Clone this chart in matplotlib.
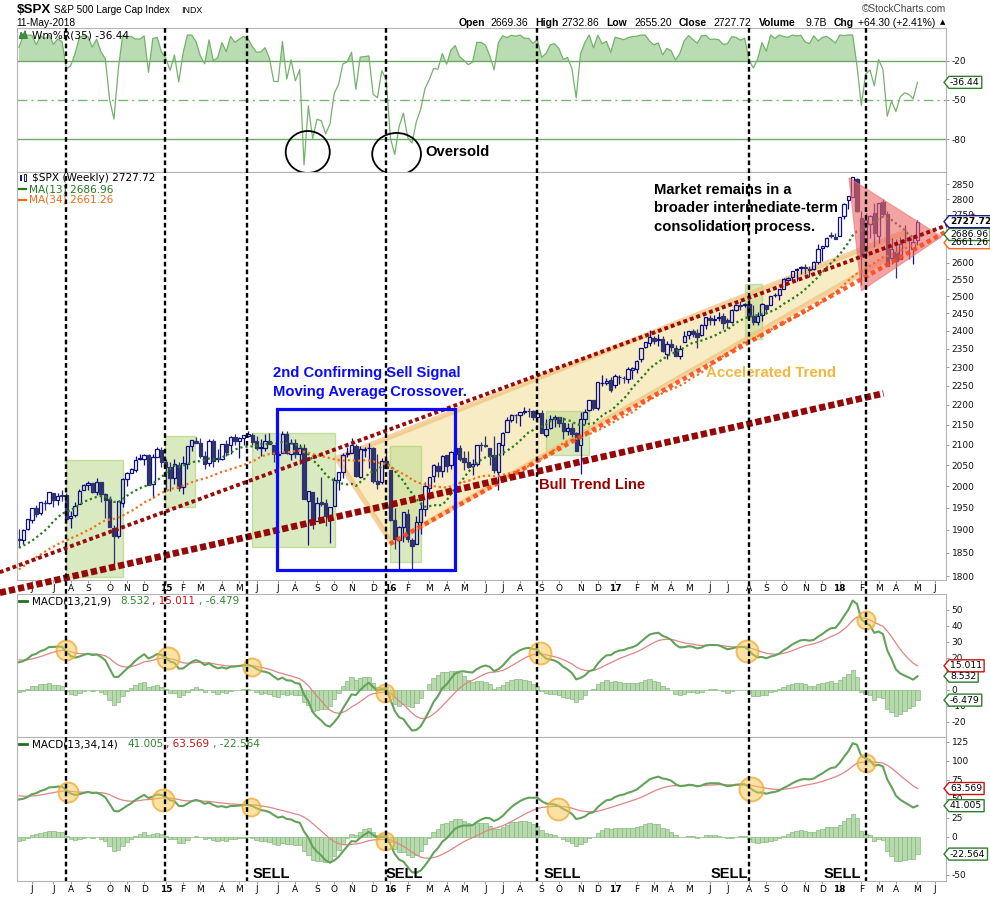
import numpy as np
import pandas as pd
import matplotlib
matplotlib.use('Agg')
import matplotlib.pyplot as plt
from matplotlib.patches import Rectangle, Polygon, Ellipse
from matplotlib.ticker import NullLocator, NullFormatter

# ======================= DATA =======================
bar_start = '2014-05-16'   # weekly bars, Friday dates

opens = [
    # 2014
    1880.0, 1878.0, 1902.0, 1923.0, 1950.0, 1937.0, 1962.0, 1961.0, 1984.0, 1968.0, 1979.0,
    1979.0, 1926.0, 1933.0, 1958.0, 1991.0, 2004.0, 2007.0, 1986.0, 2009.0, 1981.0, 1971.0,
    1905.0, 1886.0, 1962.0, 2018.0, 2032.0, 2039.0, 2065.0, 2065.0, 2074.0, 2005.0, 2069.0,
    # 2015
    2087, 2058, 2046, 2020, 2050, 1997, 2053, 2097, 2110, 2105, 2072, 2055, 2109,
    2064, 2064, 2102, 2100, 2119, 2108, 2116, 2122, 2125, 2108, 2092, 2092, 2110,
    2098, 2075, 2080, 2126, 2078, 2104, 2078, 2091, 1965, 1987, 1921, 1964, 1960,
    1933, 1954, 2015, 2033, 2076, 2080, 2096, 2022, 2087, 2091, 2091, 2013, 2010, 2061,
    # 2016
    2038, 1923, 1878, 1906, 1936, 1878, 1868, 1917, 1947, 1996, 2023, 2049,
    2036, 2074, 2050, 2078, 2092, 2067, 2057, 2047, 2052, 2100, 2100, 2092, 2075,
    2034, 2099, 2131, 2162, 2175, 2173, 2183, 2184, 2184, 2170, 2179, 2123, 2142, 2163,
    2169, 2154, 2134, 2142, 2129, 2100, 2164, 2186, 2212, 2191, 2258, 2258, 2266,
    # 2017
    2251, 2274, 2272, 2268, 2291, 2295, 2321, 2354, 2366, 2381, 2375, 2378, 2335,
    2364, 2352, 2329, 2370, 2388, 2400, 2393, 2387, 2416, 2436, 2430, 2437, 2441,
    2431, 2424, 2460, 2473, 2475, 2477, 2443, 2425, 2444, 2474, 2474.5, 2502, 2503,
    2521, 2547, 2555, 2578, 2583, 2588, 2580, 2579, 2603, 2645, 2652, 2685, 2679,
    # 2018
    2683, 2745, 2798, 2809, 2867, 2741, 2636, 2720, 2757, 2681, 2790, 2752, 2614,
    2633, 2611, 2670, 2676, 2643, 2669.36]

highs = [
    # 2014
    1902.2, 1901.0, 1924.0, 1950.0, 1955.6, 1963.9, 1968.0, 1985.6, 1984.0, 1983.9, 1991.4,
    1984.9, 1942.9, 1964.0, 1993.1, 2005.0, 2011.2, 2008.0, 2019.3, 2009.3, 1985.2, 1977.4,
    1912.1, 1965.3, 2018.2, 2034.3, 2042.5, 2071.5, 2075.8, 2077.3, 2075.8, 2077.9, 2093.6,
    # 2015
    2093.0, 2064.4, 2056.9, 2064.6, 2057.6, 2072.4, 2097.0, 2110.6, 2119.6, 2117.5, 2083.5,
    2114.9, 2114.9, 2088.8, 2102.6, 2111.9, 2120.9, 2125.9, 2117.7, 2123.9, 2134.7, 2129.5,
    2121.9, 2115.0, 2126.7, 2129.9, 2098.0, 2083.7, 2132.8, 2132.8, 2114.2, 2112.7, 2102.7,
    2102.3, 1989.6, 1987.0, 1975.0, 2020.9, 1970.0, 1951.4, 2020.9, 2034.0, 2079.7, 2094.3,
    2116.5, 2101.6, 2097.0, 2094.1, 2104.3, 2093.8, 2076.7, 2067.6, 2081.6,
    # 2016
    2038.0, 1950.3, 1908.9, 1940.2, 1947.2, 1881.6, 1930.7, 1962.9, 2009.1, 2022.4, 2052.4,
    2056.6, 2075.1, 2074.0, 2083.2, 2111.1, 2099.9, 2083.4, 2084.9, 2064.2, 2099.1, 2105.3,
    2120.6, 2092.0, 2120.6, 2104.3, 2131.7, 2169.1, 2175.6, 2177.1, 2183.0, 2193.8, 2193.4,
    2187.9, 2184.9, 2187.9, 2163.3, 2175.3, 2175.3, 2169.6, 2169.6, 2153.8, 2154.8, 2131.7,
    2182.3, 2189.9, 2213.4, 2214.1, 2259.8, 2277.5, 2271.2, 2273.8,
    # 2017
    2282.1, 2279.3, 2276.0, 2301.0, 2299.0, 2319.2, 2351.3, 2367.8, 2401.0, 2386.1, 2390.0,
    2385.7, 2370.4, 2378.4, 2361.4, 2361.4, 2398.2, 2399.3, 2403.9, 2405.8, 2418.7, 2440.2,
    2446.2, 2446.2, 2453.8, 2450.4, 2436.2, 2463.5, 2477.6, 2484.0, 2480.4, 2490.9, 2474.9,
    2454.8, 2480.4, 2474.5, 2500.2, 2508.9, 2519.4, 2552.5, 2557.7, 2575.4, 2583.0, 2588.4,
    2597.0, 2590.1, 2604.2, 2657.7, 2651.7, 2679.6, 2695.0, 2692.1,
    # 2018
    2743.5, 2787.9, 2810.3, 2872.9, 2870.6, 2763.4, 2754.4, 2747.8, 2789.2, 2786.6, 2801.9,
    2761.9, 2674.8, 2672.1, 2680.3, 2717.5, 2683.6, 2682.9, 2732.86]

lows = [
    # 2014
    1862.4, 1868.0, 1900.0, 1915.0, 1930.0, 1933.0, 1944.0, 1958.0, 1952.9, 1955.6, 1965.1,
    1916.4, 1904.8, 1929.8, 1958.0, 1991.0, 1990.1, 1983.5, 1978.6, 1964.0, 1926.0, 1906.0,
    1820.7, 1882.2, 1951.4, 2001.0, 2030.2, 2034.5, 2062.3, 2049.6, 2002.3, 1972.6, 2069.0,
    # 2015
    2046.0, 1992.4, 1988.1, 2004.5, 1989.2, 1980.9, 2041.9, 2085.4, 2103.1, 2067.3, 2039.7,
    2046.8, 2045.5, 2056.5, 2062.2, 2072.4, 2077.8, 2098.3, 2067.9, 2098.0, 2119.1, 2099.2,
    2085.7, 2072.1, 2083.7, 2101.0, 2056.6, 2044.0, 2080.0, 2077.6, 2063.5, 2067.9, 2052.1,
    1970.9, 1867.0, 1903.1, 1921.0, 1953.0, 1908.8, 1871.9, 1954.0, 1990.7, 2018.2, 2069.0,
    2080.0, 2022.0, 2019.4, 2070.3, 2042.4, 2008.5, 1993.3, 2005.9, 2043.6,
    # 2016
    1918.9, 1857.8, 1812.3, 1872.7, 1872.7, 1810.1, 1868.0, 1891.0, 1931.8, 1969.3, 2010.0,
    2022.1, 2022.5, 2033.8, 2039.7, 2074.6, 2059.3, 2039.5, 2043.1, 2025.9, 2047.3, 2085.1,
    2095.0, 2050.4, 2032.0, 1991.7, 2074.0, 2131.0, 2155.8, 2153.6, 2147.6, 2177.8, 2168.5,
    2160.4, 2157.1, 2127.8, 2119.1, 2139.2, 2145.0, 2142.6, 2114.7, 2124.6, 2119.8, 2083.8,
    2028.5, 2151.1, 2183.9, 2187.4, 2187.3, 2248.4, 2253.3, 2233.6,
    # 2017
    2245.1, 2254.3, 2258.4, 2257.0, 2267.2, 2283.8, 2313.6, 2352.9, 2358.9, 2362.6, 2357.5,
    2341.9, 2322.3, 2344.5, 2328.8, 2322.3, 2370.0, 2378.1, 2381.7, 2352.7, 2386.4, 2405.7,
    2415.7, 2415.6, 2427.1, 2405.7, 2407.7, 2422.0, 2457.7, 2459.9, 2467.0, 2437.8, 2417.4,
    2417.3, 2428.2, 2446.6, 2474.5, 2496.7, 2488.0, 2520.4, 2543.8, 2547.9, 2544.0, 2566.2,
    2566.3, 2557.5, 2576.3, 2597.0, 2605.5, 2647.6, 2676.1, 2673.6,
    # 2018
    2682.4, 2735.6, 2769.8, 2808.1, 2758.9, 2532.7, 2622.4, 2675.8, 2647.3, 2658.9, 2741.4,
    2588.3, 2594.6, 2553.8, 2610.8, 2660.0, 2612.2, 2594.6, 2655.20]

closes = [
    # 2014
    1877.9, 1900.5, 1923.6, 1949.4, 1936.2, 1962.9, 1961.0, 1985.4, 1967.6, 1978.2, 1978.3,
    1925.2, 1931.6, 1955.1, 1988.4, 2003.4, 2007.7, 1985.5, 2010.4, 1982.9, 1967.9, 1906.1,
    1886.8, 1964.6, 2018.1, 2031.9, 2039.8, 2063.5, 2067.6, 2075.4, 2002.3, 2070.7, 2088.8,
    # 2015
    2058.2, 2044.8, 2019.4, 2051.8, 1995.0, 2055.5, 2097.0, 2110.3, 2104.5, 2071.3, 2053.4,
    2108.1, 2061.0, 2067.0, 2102.1, 2081.2, 2117.7, 2108.3, 2116.1, 2122.7, 2126.1, 2107.4,
    2092.8, 2094.1, 2110.0, 2101.5, 2076.8, 2076.6, 2126.6, 2079.7, 2103.8, 2077.6, 2091.5,
    1970.9, 1988.9, 1921.2, 1961.1, 1958.1, 1931.3, 1951.4, 2014.9, 2033.1, 2075.2, 2079.4,
    2099.2, 2023.0, 2089.2, 2090.1, 2091.7, 2012.4, 2005.6, 2061.0, 2043.9,
    # 2016
    1922.0, 1880.3, 1906.9, 1940.2, 1880.1, 1864.8, 1917.8, 1948.1, 2000.0, 2022.2, 2049.6,
    2035.9, 2072.8, 2047.6, 2080.7, 2091.6, 2065.3, 2057.1, 2046.6, 2052.3, 2099.1, 2099.1,
    2096.1, 2071.2, 2037.4, 2103.0, 2129.9, 2161.7, 2175.0, 2173.6, 2182.9, 2184.1, 2183.9,
    2169.0, 2180.0, 2127.8, 2139.2, 2164.7, 2168.3, 2153.7, 2133.0, 2141.2, 2126.4, 2085.2,
    2164.5, 2181.9, 2213.4, 2192.0, 2259.5, 2258.1, 2263.8, 2238.8,
    # 2017
    2277.0, 2274.6, 2271.3, 2294.7, 2297.4, 2316.1, 2351.2, 2367.3, 2383.1, 2372.6, 2378.3,
    2344.0, 2362.7, 2355.5, 2329.0, 2348.7, 2384.2, 2399.3, 2390.9, 2381.7, 2415.8, 2439.1,
    2431.8, 2433.2, 2438.3, 2423.4, 2425.2, 2459.3, 2472.5, 2472.1, 2476.8, 2441.3, 2425.6,
    2443.1, 2476.6, 2461.4, 2500.2, 2502.2, 2519.4, 2549.3, 2553.2, 2575.2, 2581.1, 2587.8,
    2582.3, 2578.9, 2602.4, 2642.2, 2651.5, 2675.8, 2683.3, 2673.6,
    # 2018
    2743.2, 2786.2, 2810.3, 2872.9, 2762.1, 2619.6, 2732.2, 2747.3, 2691.3, 2786.6, 2752.0,
    2588.3, 2640.9, 2604.5, 2656.3, 2670.1, 2669.9, 2663.4, 2727.72]

# earlier weekly history (off-chart) used only to warm up the indicators
warm_start = '2013-01-04'
warm_closes = [
    1466.5, 1472.1, 1486.0, 1503.0, 1513.2, 1517.9, 1519.8, 1515.6, 1518.2, 1551.2, 1560.7,
    1556.9, 1569.2, 1553.3, 1588.9, 1555.3, 1582.2, 1614.4, 1633.7, 1667.5, 1649.6, 1630.7,
    1643.4, 1626.7, 1592.4, 1606.3, 1631.9, 1680.2, 1692.1, 1691.7, 1709.7, 1691.4, 1655.8,
    1663.5, 1633.0, 1655.2, 1688.0, 1709.9, 1691.8, 1690.5, 1703.2, 1744.5, 1759.8, 1761.6,
    1770.6, 1798.2, 1804.8, 1805.8, 1805.1, 1775.3, 1818.3, 1841.4, 1831.4, 1842.4, 1838.7,
    1790.3, 1782.6, 1797.0, 1838.6, 1836.3, 1859.5, 1878.0, 1841.1, 1866.5, 1857.6, 1865.1,
    1815.7, 1864.9, 1863.4, 1881.1, 1878.5]
warm_highs = [
    1467.9, 1472.3, 1485.9, 1503.3, 1514.4, 1518.3, 1524.7, 1530.9, 1525.8, 1552.5, 1563.6,
    1560.8, 1569.2, 1573.7, 1597.4, 1588.9, 1592.6, 1618.5, 1635.0, 1667.5, 1687.2, 1661.1,
    1644.4, 1648.7, 1654.2, 1615.9, 1632.1, 1680.2, 1693.1, 1698.8, 1709.7, 1709.2, 1693.0,
    1669.5, 1664.8, 1670.4, 1689.1, 1729.9, 1711.4, 1696.6, 1703.4, 1745.3, 1759.8, 1775.2,
    1774.5, 1798.2, 1804.8, 1813.6, 1810.0, 1811.5, 1823.8, 1844.9, 1849.4, 1843.2, 1850.8,
    1850.2, 1798.9, 1798.0, 1841.7, 1847.5, 1867.9, 1883.6, 1878.0, 1883.9, 1875.9, 1897.3,
    1872.4, 1869.6, 1884.9, 1891.3, 1889.1]
warm_lows = [
    1426.2, 1451.6, 1463.8, 1485.0, 1495.3, 1495.0, 1513.0, 1497.3, 1485.0, 1512.0, 1548.0,
    1538.6, 1546.2, 1539.5, 1552.3, 1536.0, 1555.3, 1577.6, 1614.4, 1631.7, 1635.5, 1630.7,
    1598.2, 1608.1, 1577.7, 1560.3, 1601.1, 1631.9, 1671.8, 1676.0, 1681.9, 1684.9, 1654.2,
    1640.0, 1627.5, 1633.4, 1655.2, 1688.0, 1687.4, 1670.4, 1646.5, 1696.8, 1740.5, 1752.7,
    1746.2, 1764.0, 1780.0, 1800.5, 1779.1, 1772.0, 1767.9, 1818.3, 1827.7, 1823.7, 1815.5,
    1790.3, 1770.5, 1737.9, 1791.8, 1824.6, 1834.4, 1834.4, 1839.6, 1839.5, 1842.1, 1858.7,
    1814.4, 1815.8, 1859.7, 1859.8, 1859.8]

month_letters = ['J', 'F', 'M', 'A', 'M', 'J', 'J', 'A', 'S', 'O', 'N', 'D']
axis_end = '2018-06-29'
# right-axis labels that are visible (others are hidden under the value tags)
price_ticks = [1800, 1850, 1900, 1950, 2000, 2050, 2100, 2150, 2200, 2250, 2300, 2350, 2400,
               2450, 2500, 2550, 2600, 2750, 2800, 2850]
wr_ticks = [-20, -50, -80]
macd1_ticks = [50, 40, 30, 20, 0, -10, -20]
macd2_ticks = [125, 100, 75, 50, 25, 0, -50]

# legend / tag values as printed on the chart
last_close, last_ma13, last_ma34, last_wr = '2727.72', '2686.96', '2661.26', '-36.44'
macd1_vals = ('8.532', '15.011', '-6.479')
macd2_vals = ('41.005', '63.569', '-22.564')

# annotations (dates / values)
sell_lines = ['2014-07-31', '2015-01-08', '2015-05-21', '2016-01-01',
              '2016-09-01', '2017-08-11', '2018-02-16']
sell_labels = ['2015-05-30', '2015-12-31', '2016-09-12', '2017-06-10', '2017-12-10']
green_boxes = [('2014-07-31', '2014-10-31', 1798, 2062),
               ('2015-01-08', '2015-02-26', 1952, 2121),
               ('2015-05-29', '2015-10-10', 1863, 2129),
               ('2016-01-07', '2016-02-26', 1830, 2097),
               ('2016-09-16', '2016-11-25', 2075, 2185),
               ('2017-08-04', '2017-09-01', 2377, 2535)]
blue_box = ('2015-07-09', '2016-04-22', 1813, 2189)
bull_line = [('2014-04-15', 1765), ('2018-03-17', 2230)]
upper_line = [('2014-04-15', 1808), ('2018-08-12', 2749)]
accel_line = [('2016-01-07', 1869), ('2018-06-25', 2695)]
wedge = [('2015-10-13', 2067), ('2016-01-10', 1871), ('2018-04-21', 2645), ('2018-04-21', 2695)]
red_tri = [('2018-01-20', 2872), ('2018-02-09', 2515), ('2018-06-19', 2680)]
macd1_marks = [('2014-07-31', 25.1, 10), ('2015-01-12', 20.2, 11), ('2015-05-28', 14.4, 9),
               ('2015-12-31', -2.1, 9), ('2016-09-06', 23.2, 11), ('2017-08-08', 24.4, 11),
               ('2018-02-16', 43.9, 9)]
macd2_marks = [('2014-08-03', 59.1, 10), ('2015-01-05', 49.0, 11), ('2015-05-27', 39.4, 9),
               ('2015-12-30', -5.8, 9), ('2016-10-05', 37.2, 11), ('2017-08-15', 63.0, 12),
               ('2018-02-16', 97.2, 9)]
oversold_rings = [('2015-08-27', -90.0, 10.2, 32.3), ('2016-01-18', -91.5, 11.3, 32.3)]

# ======================= INDICATORS =======================
o, h, l, c = map(np.asarray, (opens, highs, lows, closes))
n = len(c)
assert len(o) == len(h) == len(l) == n == 209
assert len(warm_closes) == len(warm_highs) == len(warm_lows)
nw = len(warm_closes)
allc = pd.Series(warm_closes + closes, dtype=float)
allh = pd.Series(warm_highs + highs, dtype=float)
alll = pd.Series(warm_lows + lows, dtype=float)
ma13 = allc.rolling(13).mean().values[nw:]
ma34 = allc.rolling(34).mean().values[nw:]
hh = allh.rolling(35).max()
ll = alll.rolling(35).min()
wr = ((hh - allc) / (hh - ll) * -100).values[nw:]


def ema(s, k):
    return s.ewm(span=k, adjust=False).mean()


m1 = ema(allc, 13) - ema(allc, 21)
s1 = ema(m1, 9)
m2 = ema(allc, 13) - ema(allc, 34)
s2 = ema(m2, 14)
macd1, sig1 = m1.values[nw:], s1.values[nw:]
macd2, sig2 = m2.values[nw:], s2.values[nw:]
hist1, hist2 = macd1 - sig1, macd2 - sig2

x = np.arange(n)
t0 = pd.Timestamp(bar_start)


def wk(d):
    return (pd.Timestamp(d) - t0).total_seconds() / 86400.0 / 7.0


ext = pd.date_range(bar_start, axis_end, freq='W-FRI')
tick_pos, tick_lab = [], []
for i, d in enumerate(ext):
    mon = d - pd.Timedelta(days=4)
    if mon.day <= 7:
        tick_pos.append(i)
        tick_lab.append('%02d' % (mon.year % 100) if mon.month == 1 else month_letters[mon.month - 1])

# ======================= FIGURE =======================
W, H = 990, 897
fig = plt.figure(figsize=(W / 100, H / 100), dpi=100)
fig.patch.set_facecolor('white')
SANS = ['Liberation Sans', 'DejaVu Sans']
VER = ['DejaVu Sans']


def rect(top, bottom):
    return [17 / W, 1 - bottom / H, 929 / W, (bottom - top) / H]


ax_w = fig.add_axes(rect(28.3, 171.7))
ax_p = fig.add_axes(rect(171.7, 580.0))
ax_m1 = fig.add_axes(rect(594.0, 736.7))
ax_m2 = fig.add_axes(rect(736.7, 880.7))
XL = (-0.44, 214.6)


def style(ax, ticks):
    ax.set_xlim(*XL)
    for s in ax.spines.values():
        s.set_color('#b4b4b4')
        s.set_linewidth(0.8)
    ax.yaxis.tick_right()
    ax.set_yticks(ticks)
    ax.set_yticklabels([str(t) for t in ticks], family=VER)
    ax.yaxis.set_minor_locator(NullLocator())
    ax.yaxis.set_minor_formatter(NullFormatter())
    ax.tick_params(axis='y', which='both', right=True, left=False, length=2.5, width=0.7,
                   color='#999999', pad=1.5, labelsize=6.5, labelcolor='#111111')
    ax.tick_params(axis='x', length=0, labelbottom=False)


# ---- Williams %R panel
ax_w.set_ylim(-105.15, 5.15)
ax_w.fill_between(x, wr, -20, where=wr > -20, interpolate=True, color='#b9dcb2', lw=0, zorder=1)
ax_w.plot(x, wr, color='#74b26c', lw=0.9, zorder=2)
ax_w.axhline(-20, color='#6fa868', lw=1.0, zorder=1.5)
ax_w.axhline(-80, color='#6fa868', lw=1.0, zorder=1.5)
ax_w.axhline(-50, color='#79b873', lw=1.0, ls=(0, (7, 3, 1.5, 3)), zorder=1.5)
style(ax_w, wr_ticks)
for d, v, wd, ht in oversold_rings:
    ax_w.add_patch(Ellipse((wk(d), v), wd, ht, fill=False, ec='black', lw=1.3, clip_on=False, zorder=6))
ax_w.text(wk('2016-03-05'), -90, 'Oversold', family=SANS, fontsize=10.6, fontweight='bold',
          va='center', ha='left', clip_on=False, zorder=6)

# ---- Price panel
ax_p.set_yscale('log')
ax_p.set_ylim(1791.6, 2892.5)

# shaded zones sit behind the candles
for d0, d1, p0, p1 in green_boxes:
    ax_p.add_patch(Rectangle((wk(d0), p0), wk(d1) - wk(d0), p1 - p0, facecolor='#c2dd96',
                             edgecolor='#a8d070', lw=1.0, alpha=0.6, zorder=1.2))
ax_p.add_patch(Polygon([(wk(d), p) for d, p in wedge], closed=True, facecolor='#f3e09c',
                       edgecolor='none', alpha=0.6, zorder=1.1))
ax_p.add_patch(Polygon([(wk(d), p) for d, p in wedge], closed=True, fill=False,
                       edgecolor='#f2c07a', lw=3.8, alpha=0.7, zorder=1.3, joinstyle='round'))

up = c >= o
UPC, DNC = '#0e0e86', '#2f336c'
btop, bbot = np.maximum(o, c), np.minimum(o, c)
for m, col in ((up, UPC), (~up, DNC)):
    ax_p.vlines(x[m], btop[m], h[m], color=col, lw=0.9, zorder=2)
    ax_p.vlines(x[m], l[m], bbot[m], color=col, lw=0.9, zorder=2)
ax_p.bar(x[up], (c - o)[up], bottom=o[up], width=0.78, facecolor='none', edgecolor=UPC, lw=0.9, zorder=2.2)
ax_p.bar(x[~up], (o - c)[~up], bottom=c[~up], width=0.78, facecolor=DNC, edgecolor=DNC, lw=0.9, zorder=2.2)
ax_p.plot(x, ma13, color='#2b7a1f', lw=1.6, ls=(0, (1, 1.3)), zorder=2.5)
ax_p.plot(x, ma34, color='#f2701f', lw=1.6, ls=(0, (1, 1.3)), zorder=2.5)
style(ax_p, price_ticks)

ax_p.add_patch(Polygon([(wk(d), p) for d, p in red_tri], closed=True, facecolor='#ee6464',
                       edgecolor='#ee7070', lw=0.8, alpha=0.6, zorder=3.2))
d0, d1, p0, p1 = blue_box
ax_p.add_patch(Rectangle((wk(d0), p0), wk(d1) - wk(d0), p1 - p0, fill=False, edgecolor='#0a0aff',
                         lw=2.3, zorder=4.5))


def tline(ax, pts, color, lw, dashes, z, alpha=1.0):
    ax.plot([wk(pts[0][0]), wk(pts[1][0])], [pts[0][1], pts[1][1]], color=color, lw=lw,
            ls=(0, dashes), dash_capstyle='butt', clip_on=False, zorder=z, alpha=alpha)


tline(ax_p, upper_line, '#9a0a0a', 2.8, (1.0, 0.75), 4.2)
tline(ax_p, bull_line, '#960808', 4.8, (0.95, 0.45), 4.3)
tline(ax_p, accel_line, '#ff4a14', 3.2, (1.0, 0.8), 4.1, 0.9)

ax_p.text(wk('2015-07-01'), 2283, '2nd Confirming Sell Signal', color='#0a0aff', family=SANS,
          fontsize=10.6, fontweight='bold', va='center', zorder=6)
ax_p.text(wk('2015-07-01'), 2234, 'Moving Average Crossover.', color='#0a0aff', family=SANS,
          fontsize=10.6, fontweight='bold', va='center', zorder=6)
for s, p in [('Market remains in a', 2831), ('broader intermediate-term', 2771),
             ('consolidation process.', 2712)]:
    ax_p.text(wk('2017-03-10'), p, s, color='black', family=SANS, fontsize=10.6,
              fontweight='bold', va='center', zorder=6)
ax_p.text(wk('2017-06-02'), 2283, 'Accelerated Trend', color='#f3b73c', family=SANS,
          fontsize=10.8, fontweight='bold', va='center', zorder=6)
ax_p.text(wk('2016-09-04'), 2003, 'Bull Trend Line', color='#990000', family=SANS,
          fontsize=10.6, fontweight='bold', va='center', zorder=6)

# ---- MACD panels
ax_m1.set_ylim(-29.4, 60.0)
ax_m2.set_ylim(-57.5, 131.6)
for ax, mc, sg, hs, marks in [(ax_m1, macd1, sig1, hist1, macd1_marks),
                              (ax_m2, macd2, sig2, hist2, macd2_marks)]:
    ax.bar(x, hs, width=1.0, facecolor='#b7d9ad', edgecolor='#86bb7e', lw=0.5, zorder=1)
    ax.plot(x, sg, color='#e08585', lw=0.9, zorder=2)
    ax.plot(x, mc, color='#62a25a', lw=1.5, zorder=2.1)
    for d, v, r in marks:
        ax.scatter([wk(d)], [v], s=(2 * r * 0.72) ** 2, facecolor=(0.97, 0.78, 0.30, 0.5),
                   edgecolor=(0.95, 0.66, 0.2, 0.75), lw=1.4, zorder=5, clip_on=False)
style(ax_m1, macd1_ticks)
style(ax_m2, macd2_ticks)
for d in sell_labels:
    ax_m2.text(wk(d), -48.7, 'SELL', family=SANS, fontsize=10.5, fontweight='bold',
               va='center', ha='left', zorder=6)

# month labels
for ax in (ax_p, ax_m2):
    ax.set_xticks(tick_pos)
    ax.set_xticklabels(tick_lab, family=VER)
    ax.tick_params(axis='x', length=2, width=0.7, color='#999999', labelbottom=True,
                   labelsize=6.5, pad=1.0)
    for t, lab in zip(ax.get_xticklabels(), tick_lab):
        if lab.isdigit():
            t.set_fontweight('bold')

# ======================= OVERLAY (header, legends, tags, signal lines) =======================
ov = fig.add_axes([0, 0, 1, 1], zorder=20)
ov.set_xlim(0, W)
ov.set_ylim(H, 0)
ov.axis('off')
ov.patch.set_visible(False)
rend = fig.canvas.get_renderer()


def py(ax, v):
    return H - ax.transData.transform((0, v))[1]


def pxx(ax, d):
    return ax.transData.transform((wk(d), 2000))[0]


# signal lines
for d in sell_lines:
    X = pxx(ax_p, d)
    ov.plot([X, X], [28.3, 880.7], color='black', lw=1.7, ls=(0, (2.0, 1.3)), zorder=9)

# header
ov.text(16.5, 9.8, '$SPX', family=SANS, fontsize=9.6, fontweight='bold', va='center')
ov.text(53.5, 9.8, 'S&P 500 Large Cap Index', family=SANS, fontsize=7.2, va='center')
ov.text(181.5, 10.3, 'INDX', family=SANS, fontsize=6.4, va='center')
ov.text(16.5, 22.6, '11-May-2018', family=SANS, fontsize=7.3, va='center')
ov.text(946, 9.5, '\u00a9StockCharts.com', family=SANS, fontsize=7.3, va='center', ha='right',
        color='#444444')
hdr = [(458.3, 'Open', True), (490.0, '2669.36', False), (535.0, 'High', True),
       (561.7, '2732.86', False), (606.7, 'Low', True), (634.0, '2655.20', False),
       (679.0, 'Close', True), (713.3, '2727.72', False), (759.3, 'Volume', True),
       (805.0, '9.7B', False), (833.3, 'Chg', True), (857.7, '+64.30 (+2.41%)', False)]
for xx, s, b in hdr:
    ov.text(xx, 22.6, s, family=SANS, fontsize=7.5, fontweight='bold' if b else 'normal', va='center')
ov.text(940, 22.6, '\u25b2', family=VER, fontsize=5, va='center')

# legends
ov.add_patch(Polygon([(19, 38.5), (21, 32), (23, 35), (25, 30.5), (27.5, 38.5)], closed=True,
                     facecolor='#3f8f3f', edgecolor='#2f6f2f', lw=0.5))
ov.text(31.7, 35, 'Wm%R(35) ' + last_wr, family=VER, fontsize=7.6, va='center')
ov.add_patch(Rectangle((19.5, 175), 2.2, 6, facecolor='#1a1a8a'))
ov.add_patch(Rectangle((23.5, 174), 2.2, 7, facecolor='white', edgecolor='#1a1a8a', lw=0.7))
ov.text(31.7, 178.3, '$SPX (Weekly) ' + last_close, family=VER, fontsize=7.6, va='center')
for yy, col, txt in [(189.3, '#237a23', 'MA(13) ' + last_ma13), (200.0, '#f26a1a', 'MA(34) ' + last_ma34)]:
    ov.plot([19, 21.5], [yy, yy], color=col, lw=1.6)
    ov.plot([23.5, 26], [yy, yy], color=col, lw=1.6)
    ov.text(29.3, yy, txt, family=VER, fontsize=7.6, va='center', color=col)

GREEN_T, RED_T = '#2d8a2d', '#cc1111'
for yy, name, vals, xs in [(601.0, 'MACD(13,21,9)', macd1_vals, (120.7, 151.7, 199.3)),
                           (744.3, 'MACD(13,34,14)', macd2_vals, (127.3, 165.7, 213.3))]:
    ov.plot([19.3, 26.7], [yy, yy], color='#1f6f1f', lw=2.0)
    ov.text(31.7, yy, name, family=VER, fontsize=7.5, va='center')
    ov.text(xs[0], yy, vals[0], family=VER, fontsize=7.5, va='center', color=GREEN_T)
    ov.text(xs[1], yy, ', ' + vals[1], family=VER, fontsize=7.5, va='center', color=RED_T)
    ov.text(xs[2], yy, ', ' + vals[2], family=VER, fontsize=7.5, va='center', color=GREEN_T)


# value tags on right axis
def tag(ax, value_txt, edge, bold=False, tcol='black'):
    yc = py(ax, float(value_txt))
    tip = 944.0
    t = ov.text(tip + 6.0, yc, value_txt, family=VER, fontsize=6.7 if not bold else 6.5,
                fontweight='bold' if bold else 'normal', ha='left', va='center', color=tcol, zorder=13)
    w = t.get_window_extent(renderer=rend).width
    right = tip + 6.0 + w + 2.0
    ov.add_patch(Polygon([(tip, yc), (tip + 5, yc - 6), (right, yc - 6), (right, yc + 6),
                          (tip + 5, yc + 6)], closed=True, facecolor='white', edgecolor=edge,
                         lw=1.0, zorder=12))


tag(ax_w, last_wr, '#2d7d2d')
tag(ax_p, last_ma34, '#f26a1a')
tag(ax_p, last_ma13, '#2d7d2d')
tag(ax_p, last_close, '#1a1a8a', bold=True)
tag(ax_m1, macd1_vals[2], '#2d7d2d')
tag(ax_m1, macd1_vals[0], '#2d7d2d')
tag(ax_m1, macd1_vals[1], '#cc1111')
tag(ax_m2, macd2_vals[2], '#2d7d2d')
tag(ax_m2, macd2_vals[0], '#2d7d2d')
tag(ax_m2, macd2_vals[1], '#cc1111')

fig.savefig('out.png', dpi=100, facecolor='white')
